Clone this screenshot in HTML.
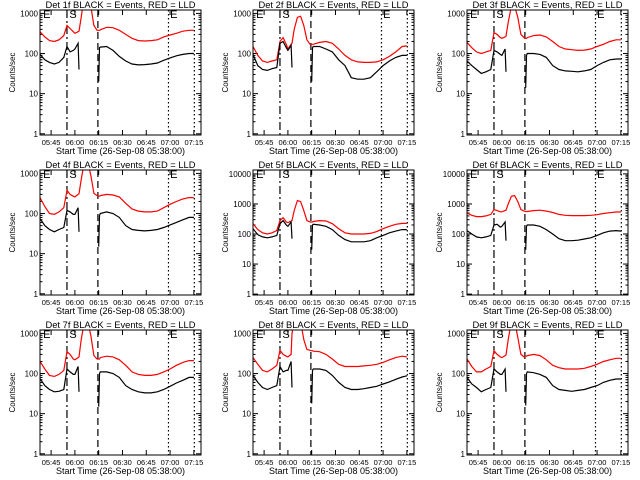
<!DOCTYPE html>
<html><head><meta charset="utf-8"><style>
html,body{margin:0;padding:0;background:#fff;}
svg{display:block;font-family:"Liberation Sans",sans-serif;}
</style></head><body>
<svg id="chart" width="640" height="480" viewBox="0 0 640 480" xmlns="http://www.w3.org/2000/svg"></svg>
<script>
const times = [0,3,6,9,12,15,17,19,21,22,24,24.6,26,28,30,32,34,36,37,37.5,38,42,46,50,54,58,62,66,70,74,78,82,86,90,94,97];
const N = null;
const detLabels = ["1f","2f","3f","4f","5f","6f","7f","8f","9f"];
const yTopDecades = [3,3,3,3,4,4,3,3,3];
const red1 = [350,260,210,200,220,280,500,420,350,320,350,360,800,3000,3000,1500,500,380,380,380,390,450,440,380,300,240,210,205,210,220,260,290,320,360,380,380];
const black1 = [95,70,60,55,60,80,150,110,120,130,180,40,N,N,N,N,N,N,20,140,145,150,120,85,65,55,52,53,55,58,68,78,88,95,100,100];
const red2 = [150,90,65,60,65,70,200,250,170,130,170,180,400,800,850,500,220,170,170,170,170,190,200,180,130,90,70,62,60,60,62,70,85,110,150,155];
const black2 = [95,50,40,38,42,45,180,200,140,120,160,45,N,N,N,N,N,N,20,140,150,150,130,110,70,50,25,23,23,25,35,50,65,80,90,90];
const red3 = [190,140,110,100,110,120,330,300,250,240,260,270,600,1500,1500,800,300,250,240,240,250,280,290,260,200,150,130,125,120,122,130,150,170,200,220,220];
const black3 = [65,50,40,32,35,40,120,110,95,90,130,35,N,N,N,N,N,N,14,90,100,100,95,80,50,40,37,36,35,37,40,50,60,70,73,73];
const red4 = [250,150,100,95,110,140,380,300,270,260,300,310,700,2000,2000,900,320,280,270,270,280,300,290,260,180,130,115,110,110,115,140,170,200,230,250,250];
const black4 = [75,50,40,35,40,45,120,110,95,95,140,35,N,N,N,N,N,N,15,90,100,110,100,80,50,40,38,37,38,40,45,52,60,70,80,80];
const red5 = [220,140,110,100,110,130,280,350,250,240,270,280,600,1300,1200,600,280,250,250,250,260,280,270,220,150,110,100,100,100,105,120,150,180,210,225,225];
const black5 = [150,95,80,75,80,90,220,280,200,180,250,70,N,N,N,N,N,N,30,200,210,200,180,140,90,65,55,55,55,60,75,90,110,125,140,140];
const red6 = [500,420,380,380,400,450,650,600,550,550,600,620,1000,1800,1900,1200,650,580,560,560,560,600,620,580,520,450,420,410,410,410,420,440,480,510,540,540];
const black6 = [130,100,80,75,80,90,200,210,170,180,250,60,N,N,N,N,N,N,30,180,200,200,180,140,100,70,60,60,62,68,75,90,110,125,130,125];
const red7 = [200,130,90,85,95,120,350,300,230,220,250,260,700,2000,2000,900,280,230,230,230,250,270,260,220,160,110,95,90,90,95,110,130,160,190,210,210];
const black7 = [75,50,40,35,36,40,130,110,95,95,150,35,N,N,N,N,N,N,15,100,110,110,100,80,50,40,35,33,33,35,40,48,58,68,80,80];
const red8 = [250,170,120,110,130,160,380,300,270,260,300,1000,2000,3000,2000,700,400,380,370,370,360,350,300,230,170,150,150,150,155,160,170,190,220,250,270,260];
const black8 = [90,60,45,40,45,50,150,110,120,120,200,45,N,N,N,N,N,N,18,120,130,130,120,90,60,45,40,40,42,45,48,55,62,72,82,88];
const red9 = [230,150,110,110,130,150,370,300,260,250,280,290,700,2000,2000,800,300,260,270,270,280,300,280,220,160,140,130,130,130,135,150,170,200,220,240,240];
const black9 = [80,55,45,35,40,45,130,110,95,95,130,35,N,N,N,N,N,N,16,100,110,105,95,80,50,40,38,36,38,40,45,50,60,68,73,73];
const redSeries = [red1,red2,red3,red4,red5,red6,red7,red8,red9];
const blackSeries = [black1,black2,black3,black4,black5,black6,black7,black8,black9];
const xTickMinutes = [7,22,37,52,67,82,97];
const xTickLabels = ["05:45","06:00","06:15","06:30","06:45","07:00","07:15"];
const markerMinutes = [17,36.5,81,97.3];

const NS="http://www.w3.org/2000/svg";
const svg=document.getElementById("chart");
function mk(tag,attrs,parent){const e=document.createElementNS(NS,tag);for(const k in attrs)e.setAttribute(k,attrs[k]);(parent||svg).appendChild(e);return e;}
const colX=[0,213,427], rowY=[0,160,320];
const XMAX=101.5;
for(let p=0;p<9;p++){
  const ox=colX[p%3], oy=rowY[Math.floor(p/3)];
  const L=ox+40,R=ox+201,T=oy+10,B=oy+135;
  const topLog=yTopDecades[p]===3?3.085:4.13, botLog=-0.03;
  const xs=m=>L+(m/XMAX)*(R-L);
  const ys=v=>B-(Math.log10(v)-botLog)/(topLog-botLog)*(B-T);
  const g=mk("g",{});
  
  
  const clipId="clip"+p;
  const cp=mk("clipPath",{id:clipId},g);mk("rect",{x:L,y:T,width:R-L,height:B-T},cp);
  const t=mk("text",{x:(L+R)/2-75,y:oy+8,"font-size":"9",textLength:"150",lengthAdjust:"spacingAndGlyphs"},g);
  t.textContent="Det "+detLabels[p]+" BLACK = Events, RED = LLD";
  
  
  const yl=mk("text",{x:0,y:0,"text-anchor":"middle","font-size":"8",transform:`translate(${ox+15},${(T+B)/2}) rotate(-90)`},g);
  yl.textContent="Counts/sec";
  
  
  const xl=mk("text",{x:(L+R)/2,y:oy+154,"text-anchor":"middle","font-size":"9"},g);
  xl.textContent="Start Time (26-Sep-08 05:38:00)";
  
  
  for(let d=0;d<=yTopDecades[p];d++){
    for(let m=1;m<10;m++){
      const v=m*Math.pow(10,d); if(Math.log10(v)>topLog) break;
      const y=ys(v), len=m===1?5:2.5;
      mk("line",{x1:L,x2:L+len,y1:y,y2:y,stroke:"#000","stroke-width":1},g);
      mk("line",{x1:R,x2:R-len,y1:y,y2:y,stroke:"#000","stroke-width":1},g);
      if(m===1){
        const tl=mk("text",{x:L-2,y:y+3,"text-anchor":"end","font-size":"8"},g);
        tl.textContent=String(v);
        
        
      }
    }
  }
  xTickMinutes.forEach((m,i)=>{
    const x=xs(m);
    mk("line",{x1:x,x2:x,y1:B,y2:B-5,stroke:"#000"},g);
    mk("line",{x1:x,x2:x,y1:T,y2:T+5,stroke:"#000"},g);
    const tl=mk("text",{x:x,y:oy+145,"text-anchor":"middle","font-size":"7.5"},g);
    tl.textContent=xTickLabels[i];
    
    
  });
  const dashes=["8,3,2,3","7,4","1.5,2.5","1.5,2.5"];
  markerMinutes.forEach((m,i)=>{
    const x=xs(m);
    const ln=mk("line",{x1:x,x2:x,y1:T,y2:B,stroke:"#000","stroke-width":1.2,"stroke-dasharray":dashes[i]},g);
    
    
  });
  [["E",2],["S",18.5],["E",82]].forEach(([s,m])=>{
    const tx=mk("text",{x:xs(m),y:T+8,"font-size":"11"},g);
    tx.textContent=s;
    
    
  });
  function path(arr){let d="",pen=false;arr.forEach((v,i)=>{if(v==null){pen=false;return;}d+=(pen?"L":"M")+xs(times[i]).toFixed(1)+","+ys(v).toFixed(1);pen=true;});return d;}
  const rp=mk("path",{d:path(redSeries[p]),fill:"none",stroke:"#ff0000","stroke-width":1.2,"clip-path":`url(#${clipId})`},g);
  
  
  const bp=mk("path",{d:path(blackSeries[p]),fill:"none",stroke:"#000","stroke-width":1.2,"clip-path":`url(#${clipId})`},g);
  
  
  const box=mk("rect",{x:L,y:T,width:R-L,height:B-T,fill:"none",stroke:"#000","stroke-width":1},g);
  
  
}
</script>
</body></html>
